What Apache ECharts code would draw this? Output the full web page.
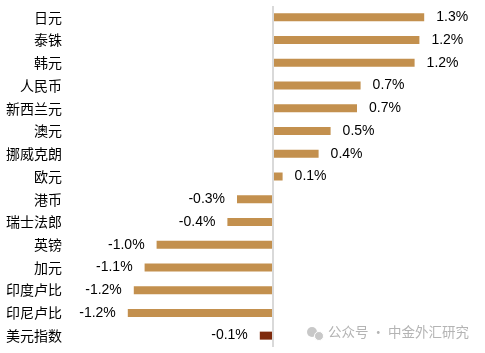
<!DOCTYPE html>
<html><head><meta charset="utf-8">
<script src="https://cdn.jsdelivr.net/npm/echarts@6/dist/echarts.min.js"></script>
<style>html,body{margin:0;padding:0;background:#fff}#c{width:485px;height:353px}</style>
</head><body><div id="c"></div>
<script>
const categories = ['日元','泰铢','韩元','人民币','新西兰元','澳元','挪威克朗','欧元','港币','瑞士法郎','英镑','加元','印度卢比','印尼卢比','美元指数'];
const values = [1.26, 1.22, 1.18, 0.73, 0.70, 0.48, 0.38, 0.08, -0.30, -0.38, -0.97, -1.07, -1.16, -1.21, -0.11];
const barColors = ['#C3904E','#C3904E','#C3904E','#C3904E','#C3904E','#C3904E','#C3904E','#C3904E','#C3904E','#C3904E','#C3904E','#C3904E','#C3904E','#C3904E','#7E2A0C'];

const chart = echarts.init(document.getElementById('c'), null, {renderer:'canvas'});
chart.setOption({
  animation:false,
  grid:{left:69, right:8, top:6, bottom:6, containLabel:false},
  xAxis:{type:'value', min:-1.7, max:1.7, show:false},
  yAxis:{type:'category', data:categories, inverse:true,
    axisLine:{show:false}, axisTick:{show:false},
    axisLabel:{margin:7, color:'#000', fontSize:14, fontFamily:'Noto Sans CJK SC'}},
  series:[{
    type:'bar', barWidth:8,
    data: values.map((v,i)=>({value:v, itemStyle:{color:barColors[i]},
      label:{position: v>=0 ? 'right':'left'}})),
    label:{show:true, distance:12, color:'#000', fontSize:14, fontFamily:'Liberation Sans, Arial',
      formatter:p=>p.value.toFixed(1)+'%'},
    markLine:{silent:true, symbol:'none', label:{show:false},
      lineStyle:{color:'#d9d9d9', type:'solid', width:2}, data:[{xAxis:0}]}
  }],
  graphic:[
    {type:'circle', shape:{cx:312, cy:332, r:5}, style:{fill:'#c8c8c8'}},
    {type:'circle', shape:{cx:319, cy:336, r:4.5}, style:{fill:'#c8c8c8', stroke:'#fff', lineWidth:1}},
    {type:'text', left:328, top:325, style:{text:'公众号 · 中金外汇研究', fill:'#b4b4b4', fontSize:13.5, fontFamily:'Noto Sans CJK SC'}}
  ]
});
</script></body></html>
